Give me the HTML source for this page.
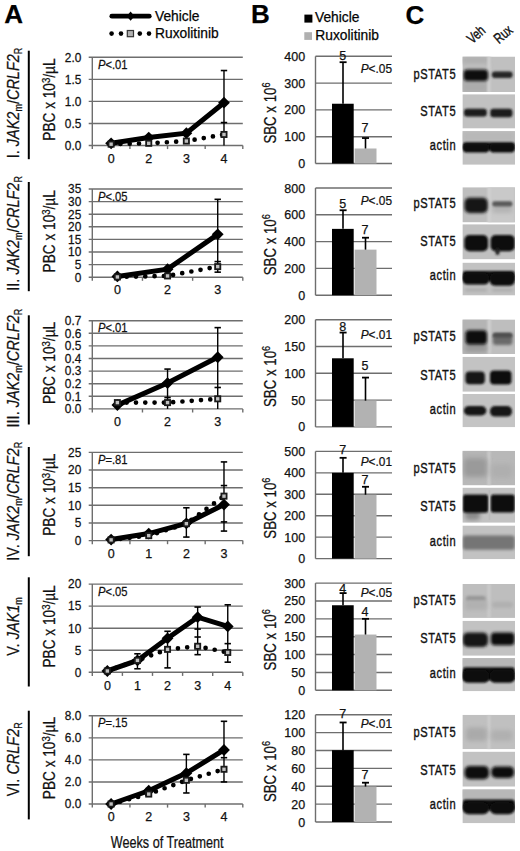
<!DOCTYPE html><html><head><meta charset="utf-8"><title>Figure</title><style>html,body{margin:0;padding:0;background:#fff;width:520px;height:851px;overflow:hidden}svg{display:block}text{font-family:"Liberation Sans", sans-serif;stroke:#111;stroke-width:0.25px}</style></head><body><svg width="520" height="851" viewBox="0 0 520 851" font-family='"Liberation Sans", sans-serif'><defs><filter id="b6" x="-50%" y="-100%" width="200%" height="300%"><feGaussianBlur stdDeviation="0.6"/></filter><filter id="b10" x="-50%" y="-100%" width="200%" height="300%"><feGaussianBlur stdDeviation="1"/></filter><filter id="b12" x="-50%" y="-100%" width="200%" height="300%"><feGaussianBlur stdDeviation="1.2"/></filter><filter id="b13" x="-50%" y="-100%" width="200%" height="300%"><feGaussianBlur stdDeviation="1.3"/></filter><filter id="b14" x="-50%" y="-100%" width="200%" height="300%"><feGaussianBlur stdDeviation="1.4"/></filter><filter id="b15" x="-50%" y="-100%" width="200%" height="300%"><feGaussianBlur stdDeviation="1.5"/></filter><filter id="b16" x="-50%" y="-100%" width="200%" height="300%"><feGaussianBlur stdDeviation="1.6"/></filter><filter id="b18" x="-50%" y="-100%" width="200%" height="300%"><feGaussianBlur stdDeviation="1.8"/></filter><filter id="b20" x="-50%" y="-100%" width="200%" height="300%"><feGaussianBlur stdDeviation="2"/></filter><filter id="b22" x="-50%" y="-100%" width="200%" height="300%"><feGaussianBlur stdDeviation="2.2"/></filter><filter id="b24" x="-50%" y="-100%" width="200%" height="300%"><feGaussianBlur stdDeviation="2.4"/></filter></defs><rect width="100%" height="100%" fill="#fff"/><text transform="translate(4.3,23.4)" font-size="26" text-anchor="start" font-weight="bold" font-style="normal" fill="#000" >A</text>
<text transform="translate(251,23.4)" font-size="26" text-anchor="start" font-weight="bold" font-style="normal" fill="#000" >B</text>
<text transform="translate(405.6,23.6)" font-size="26" text-anchor="start" font-weight="bold" font-style="normal" fill="#000" >C</text>
<line x1="111.8" y1="16.2" x2="149.3" y2="16.2" stroke="#000" stroke-width="4.7" stroke-linecap="round"/>
<polygon points="130.6,11.6 134.4,16.2 130.6,20.8 126.8,16.2" fill="#000"/>
<circle cx="111.6" cy="33.6" r="2.3" fill="#000"/>
<circle cx="121" cy="33.6" r="2.3" fill="#000"/>
<circle cx="139.8" cy="33.6" r="2.3" fill="#000"/>
<circle cx="149" cy="33.6" r="2.3" fill="#000"/>
<rect x="127.3" y="30.5" width="6.2" height="6.2" fill="#b0b0b0" stroke="#333" stroke-width="1.2"/>
<text transform="translate(155,20.9)" font-size="13.8" text-anchor="start" font-weight="normal" font-style="normal" fill="#000" >Vehicle</text>
<text transform="translate(155,38)" font-size="13.8" text-anchor="start" font-weight="normal" font-style="normal" fill="#000" >Ruxolitinib</text>
<rect x="304.4" y="14.6" width="8" height="8" fill="#000" />
<rect x="304.3" y="32.2" width="7.7" height="7.7" fill="#b0b0b0" />
<text transform="translate(315,21.9)" font-size="13.8" text-anchor="start" font-weight="normal" font-style="normal" fill="#000" >Vehicle</text>
<text transform="translate(315.3,39.6)" font-size="13.8" text-anchor="start" font-weight="normal" font-style="normal" fill="#000" >Ruxolitinib</text>
<line x1="28.8" y1="50.7" x2="28.8" y2="159.2" stroke="#000" stroke-width="2" />
<line x1="28.8" y1="182" x2="28.8" y2="291.2" stroke="#000" stroke-width="2" />
<line x1="28.8" y1="315.3" x2="28.8" y2="424.5" stroke="#000" stroke-width="2" />
<line x1="28.8" y1="447" x2="28.8" y2="556.2" stroke="#000" stroke-width="2" />
<line x1="28.8" y1="577.3" x2="28.8" y2="686.5" stroke="#000" stroke-width="2" />
<line x1="28.8" y1="710.7" x2="28.8" y2="819.4" stroke="#000" stroke-width="2" />
<text transform="translate(18.8,103) rotate(-90) scale(0.879,1)" font-size="16.5" text-anchor="middle" fill="#111">I. <tspan font-style="italic">JAK2</tspan><tspan font-size="10.23" dy="3">m</tspan><tspan dy="-3">/</tspan><tspan font-style="italic">CRLF2</tspan><tspan font-size="10.23" dy="3">R</tspan></text>
<text transform="translate(18.8,233.4) rotate(-90) scale(0.879,1)" font-size="16.5" text-anchor="middle" fill="#111">II. <tspan font-style="italic">JAK2</tspan><tspan font-size="10.23" dy="3">m</tspan><tspan dy="-3">/</tspan><tspan font-style="italic">CRLF2</tspan><tspan font-size="10.23" dy="3">R</tspan></text>
<text transform="translate(18.8,368.1) rotate(-90) scale(0.879,1)" font-size="16.5" text-anchor="middle" fill="#111">III. <tspan font-style="italic">JAK2</tspan><tspan font-size="10.23" dy="3">m</tspan><tspan dy="-3">/</tspan><tspan font-style="italic">CRLF2</tspan><tspan font-size="10.23" dy="3">R</tspan></text>
<text transform="translate(18.8,501.2) rotate(-90) scale(0.879,1)" font-size="16.5" text-anchor="middle" fill="#111">IV. <tspan font-style="italic">JAK2</tspan><tspan font-size="10.23" dy="3">m</tspan><tspan dy="-3">/</tspan><tspan font-style="italic">CRLF2</tspan><tspan font-size="10.23" dy="3">R</tspan></text>
<text transform="translate(18.8,626.5) rotate(-90) scale(0.879,1)" font-size="16.5" text-anchor="middle" fill="#111">V. <tspan font-style="italic">JAK1</tspan><tspan font-size="10.23" dy="3">m</tspan></text>
<text transform="translate(18.8,759.3) rotate(-90) scale(0.879,1)" font-size="16.5" text-anchor="middle" fill="#111">VI. <tspan font-style="italic">CRLF2</tspan><tspan font-size="10.23" dy="3">R</tspan></text>
<text transform="translate(55,99.6) rotate(-90) scale(0.853,1)" font-size="16" text-anchor="middle" fill="#111">PBC x 10<tspan font-size="11.2" dy="-5.2">3</tspan><tspan dy="5.2">/µL</tspan></text>
<text transform="translate(55,231.3) rotate(-90) scale(0.853,1)" font-size="16" text-anchor="middle" fill="#111">PBC x 10<tspan font-size="11.2" dy="-5.2">3</tspan><tspan dy="5.2">/µL</tspan></text>
<text transform="translate(55,363) rotate(-90) scale(0.853,1)" font-size="16" text-anchor="middle" fill="#111">PBC x 10<tspan font-size="11.2" dy="-5.2">3</tspan><tspan dy="5.2">/µL</tspan></text>
<text transform="translate(55,494.7) rotate(-90) scale(0.853,1)" font-size="16" text-anchor="middle" fill="#111">PBC x 10<tspan font-size="11.2" dy="-5.2">3</tspan><tspan dy="5.2">/µL</tspan></text>
<text transform="translate(55,626.4) rotate(-90) scale(0.853,1)" font-size="16" text-anchor="middle" fill="#111">PBC x 10<tspan font-size="11.2" dy="-5.2">3</tspan><tspan dy="5.2">/µL</tspan></text>
<text transform="translate(55,758.1) rotate(-90) scale(0.853,1)" font-size="16" text-anchor="middle" fill="#111">PBC x 10<tspan font-size="11.2" dy="-5.2">3</tspan><tspan dy="5.2">/µL</tspan></text>
<line x1="88.7" y1="145.5" x2="242.8" y2="145.5" stroke="#6e6e6e" stroke-width="1.4" />
<text transform="translate(81.3,149.8) scale(0.95,1)" font-size="12.5" text-anchor="end" font-weight="normal" font-style="normal" fill="#111" >0.0</text>
<line x1="88.7" y1="123.45" x2="242.8" y2="123.45" stroke="#6e6e6e" stroke-width="1.4" />
<text transform="translate(81.3,127.75) scale(0.95,1)" font-size="12.5" text-anchor="end" font-weight="normal" font-style="normal" fill="#111" >0.5</text>
<line x1="88.7" y1="101.4" x2="242.8" y2="101.4" stroke="#6e6e6e" stroke-width="1.4" />
<text transform="translate(81.3,105.7) scale(0.95,1)" font-size="12.5" text-anchor="end" font-weight="normal" font-style="normal" fill="#111" >1.0</text>
<line x1="88.7" y1="79.35" x2="242.8" y2="79.35" stroke="#6e6e6e" stroke-width="1.4" />
<text transform="translate(81.3,83.65) scale(0.95,1)" font-size="12.5" text-anchor="end" font-weight="normal" font-style="normal" fill="#111" >1.5</text>
<line x1="88.7" y1="57.3" x2="242.8" y2="57.3" stroke="#6e6e6e" stroke-width="1.4" />
<text transform="translate(81.3,61.6) scale(0.95,1)" font-size="12.5" text-anchor="end" font-weight="normal" font-style="normal" fill="#111" >2.0</text>
<line x1="92.3" y1="57.3" x2="92.3" y2="149.1" stroke="#6e6e6e" stroke-width="1.4" />
<line x1="129.925" y1="145.5" x2="129.925" y2="149.1" stroke="#6e6e6e" stroke-width="1.4" />
<line x1="167.55" y1="145.5" x2="167.55" y2="149.1" stroke="#6e6e6e" stroke-width="1.4" />
<line x1="205.175" y1="145.5" x2="205.175" y2="149.1" stroke="#6e6e6e" stroke-width="1.4" />
<line x1="242.8" y1="145.5" x2="242.8" y2="149.1" stroke="#6e6e6e" stroke-width="1.4" />
<text transform="translate(111.112,162.7)" font-size="12.5" text-anchor="middle" font-weight="normal" font-style="normal" fill="#111" >0</text>
<text transform="translate(148.738,162.7)" font-size="12.5" text-anchor="middle" font-weight="normal" font-style="normal" fill="#111" >2</text>
<text transform="translate(186.363,162.7)" font-size="12.5" text-anchor="middle" font-weight="normal" font-style="normal" fill="#111" >3</text>
<text transform="translate(223.988,162.7)" font-size="12.5" text-anchor="middle" font-weight="normal" font-style="normal" fill="#111" >4</text>
<text transform="translate(98,68.9) scale(0.87,1)" font-size="12.875" fill="#111"><tspan font-style="italic">P</tspan>&lt;.01</text>
<line x1="223.988" y1="145.5" x2="223.988" y2="70.53" stroke="#000" stroke-width="1.4" />
<line x1="220.788" y1="70.53" x2="227.188" y2="70.53" stroke="#000" stroke-width="1.6" />
<line x1="220.788" y1="122.568" x2="227.188" y2="122.568" stroke="#000" stroke-width="1.6" />
<polyline points="111.112,143.295 148.738,137.562 186.363,133.152 223.988,102.723" fill="none" stroke="#000" stroke-width="5" stroke-linejoin="miter"/>
<polygon points="111.112,137.395 117.013,143.295 111.112,149.195 105.212,143.295" fill="#000"/>
<polygon points="148.738,131.662 154.638,137.562 148.738,143.462 142.838,137.562" fill="#000"/>
<polygon points="186.363,127.252 192.263,133.152 186.363,139.052 180.463,133.152" fill="#000"/>
<polygon points="223.988,96.823 229.888,102.723 223.988,108.623 218.088,102.723" fill="#000"/>
<polyline points="111.112,144.177 148.738,143.295 186.363,141.09 223.988,134.475" fill="none" stroke="#000" stroke-width="4.7" stroke-linecap="round" stroke-dasharray="0 9.3"/>
<rect x="108.513" y="141.577" width="5.2" height="5.2" fill="#c0c0c0" stroke="#1a1a1a" stroke-width="1.8"/>
<rect x="146.138" y="140.695" width="5.2" height="5.2" fill="#c0c0c0" stroke="#1a1a1a" stroke-width="1.8"/>
<rect x="183.763" y="138.49" width="5.2" height="5.2" fill="#c0c0c0" stroke="#1a1a1a" stroke-width="1.8"/>
<rect x="221.388" y="131.875" width="5.2" height="5.2" fill="#c0c0c0" stroke="#1a1a1a" stroke-width="1.8"/>
<line x1="88.7" y1="277.2" x2="242.8" y2="277.2" stroke="#6e6e6e" stroke-width="1.4" />
<text transform="translate(81.3,281.5) scale(0.95,1)" font-size="12.5" text-anchor="end" font-weight="normal" font-style="normal" fill="#111" >0</text>
<line x1="88.7" y1="264.6" x2="242.8" y2="264.6" stroke="#6e6e6e" stroke-width="1.4" />
<text transform="translate(81.3,268.9) scale(0.95,1)" font-size="12.5" text-anchor="end" font-weight="normal" font-style="normal" fill="#111" >5</text>
<line x1="88.7" y1="252" x2="242.8" y2="252" stroke="#6e6e6e" stroke-width="1.4" />
<text transform="translate(81.3,256.3) scale(0.95,1)" font-size="12.5" text-anchor="end" font-weight="normal" font-style="normal" fill="#111" >10</text>
<line x1="88.7" y1="239.4" x2="242.8" y2="239.4" stroke="#6e6e6e" stroke-width="1.4" />
<text transform="translate(81.3,243.7) scale(0.95,1)" font-size="12.5" text-anchor="end" font-weight="normal" font-style="normal" fill="#111" >15</text>
<line x1="88.7" y1="226.8" x2="242.8" y2="226.8" stroke="#6e6e6e" stroke-width="1.4" />
<text transform="translate(81.3,231.1) scale(0.95,1)" font-size="12.5" text-anchor="end" font-weight="normal" font-style="normal" fill="#111" >20</text>
<line x1="88.7" y1="214.2" x2="242.8" y2="214.2" stroke="#6e6e6e" stroke-width="1.4" />
<text transform="translate(81.3,218.5) scale(0.95,1)" font-size="12.5" text-anchor="end" font-weight="normal" font-style="normal" fill="#111" >25</text>
<line x1="88.7" y1="201.6" x2="242.8" y2="201.6" stroke="#6e6e6e" stroke-width="1.4" />
<text transform="translate(81.3,205.9) scale(0.95,1)" font-size="12.5" text-anchor="end" font-weight="normal" font-style="normal" fill="#111" >30</text>
<line x1="88.7" y1="189" x2="242.8" y2="189" stroke="#6e6e6e" stroke-width="1.4" />
<text transform="translate(81.3,193.3) scale(0.95,1)" font-size="12.5" text-anchor="end" font-weight="normal" font-style="normal" fill="#111" >35</text>
<line x1="92.3" y1="189" x2="92.3" y2="280.8" stroke="#6e6e6e" stroke-width="1.4" />
<line x1="142.467" y1="277.2" x2="142.467" y2="280.8" stroke="#6e6e6e" stroke-width="1.4" />
<line x1="192.633" y1="277.2" x2="192.633" y2="280.8" stroke="#6e6e6e" stroke-width="1.4" />
<line x1="242.8" y1="277.2" x2="242.8" y2="280.8" stroke="#6e6e6e" stroke-width="1.4" />
<text transform="translate(117.383,294.4)" font-size="12.5" text-anchor="middle" font-weight="normal" font-style="normal" fill="#111" >0</text>
<text transform="translate(167.55,294.4)" font-size="12.5" text-anchor="middle" font-weight="normal" font-style="normal" fill="#111" >2</text>
<text transform="translate(217.717,294.4)" font-size="12.5" text-anchor="middle" font-weight="normal" font-style="normal" fill="#111" >3</text>
<text transform="translate(98,200.6) scale(0.87,1)" font-size="12.875" fill="#111"><tspan font-style="italic">P</tspan>&lt;.05</text>
<line x1="217.717" y1="272.16" x2="217.717" y2="199.332" stroke="#000" stroke-width="1.4" />
<line x1="214.517" y1="199.332" x2="220.917" y2="199.332" stroke="#000" stroke-width="1.6" />
<line x1="214.517" y1="261.576" x2="220.917" y2="261.576" stroke="#000" stroke-width="1.6" />
<line x1="214.517" y1="272.16" x2="220.917" y2="272.16" stroke="#000" stroke-width="1.6" />
<polyline points="117.383,276.444 167.55,269.136 217.717,234.36" fill="none" stroke="#000" stroke-width="5" stroke-linejoin="miter"/>
<polygon points="117.383,270.544 123.283,276.444 117.383,282.344 111.483,276.444" fill="#000"/>
<polygon points="167.55,263.236 173.45,269.136 167.55,275.036 161.65,269.136" fill="#000"/>
<polygon points="217.717,228.46 223.617,234.36 217.717,240.26 211.817,234.36" fill="#000"/>
<polyline points="117.383,276.948 167.55,275.94 217.717,266.616" fill="none" stroke="#000" stroke-width="4.7" stroke-linecap="round" stroke-dasharray="0 9.3"/>
<rect x="114.783" y="274.348" width="5.2" height="5.2" fill="#c0c0c0" stroke="#1a1a1a" stroke-width="1.8"/>
<rect x="164.95" y="273.34" width="5.2" height="5.2" fill="#c0c0c0" stroke="#1a1a1a" stroke-width="1.8"/>
<rect x="215.117" y="264.016" width="5.2" height="5.2" fill="#c0c0c0" stroke="#1a1a1a" stroke-width="1.8"/>
<line x1="88.7" y1="408.9" x2="242.8" y2="408.9" stroke="#6e6e6e" stroke-width="1.4" />
<text transform="translate(81.3,413.2) scale(0.95,1)" font-size="12.5" text-anchor="end" font-weight="normal" font-style="normal" fill="#111" >0.0</text>
<line x1="88.7" y1="396.3" x2="242.8" y2="396.3" stroke="#6e6e6e" stroke-width="1.4" />
<text transform="translate(81.3,400.6) scale(0.95,1)" font-size="12.5" text-anchor="end" font-weight="normal" font-style="normal" fill="#111" >0.1</text>
<line x1="88.7" y1="383.7" x2="242.8" y2="383.7" stroke="#6e6e6e" stroke-width="1.4" />
<text transform="translate(81.3,388) scale(0.95,1)" font-size="12.5" text-anchor="end" font-weight="normal" font-style="normal" fill="#111" >0.2</text>
<line x1="88.7" y1="371.1" x2="242.8" y2="371.1" stroke="#6e6e6e" stroke-width="1.4" />
<text transform="translate(81.3,375.4) scale(0.95,1)" font-size="12.5" text-anchor="end" font-weight="normal" font-style="normal" fill="#111" >0.3</text>
<line x1="88.7" y1="358.5" x2="242.8" y2="358.5" stroke="#6e6e6e" stroke-width="1.4" />
<text transform="translate(81.3,362.8) scale(0.95,1)" font-size="12.5" text-anchor="end" font-weight="normal" font-style="normal" fill="#111" >0.4</text>
<line x1="88.7" y1="345.9" x2="242.8" y2="345.9" stroke="#6e6e6e" stroke-width="1.4" />
<text transform="translate(81.3,350.2) scale(0.95,1)" font-size="12.5" text-anchor="end" font-weight="normal" font-style="normal" fill="#111" >0.5</text>
<line x1="88.7" y1="333.3" x2="242.8" y2="333.3" stroke="#6e6e6e" stroke-width="1.4" />
<text transform="translate(81.3,337.6) scale(0.95,1)" font-size="12.5" text-anchor="end" font-weight="normal" font-style="normal" fill="#111" >0.6</text>
<line x1="88.7" y1="320.7" x2="242.8" y2="320.7" stroke="#6e6e6e" stroke-width="1.4" />
<text transform="translate(81.3,325) scale(0.95,1)" font-size="12.5" text-anchor="end" font-weight="normal" font-style="normal" fill="#111" >0.7</text>
<line x1="92.3" y1="320.7" x2="92.3" y2="412.5" stroke="#6e6e6e" stroke-width="1.4" />
<line x1="142.467" y1="408.9" x2="142.467" y2="412.5" stroke="#6e6e6e" stroke-width="1.4" />
<line x1="192.633" y1="408.9" x2="192.633" y2="412.5" stroke="#6e6e6e" stroke-width="1.4" />
<line x1="242.8" y1="408.9" x2="242.8" y2="412.5" stroke="#6e6e6e" stroke-width="1.4" />
<text transform="translate(117.383,426.1)" font-size="12.5" text-anchor="middle" font-weight="normal" font-style="normal" fill="#111" >0</text>
<text transform="translate(167.55,426.1)" font-size="12.5" text-anchor="middle" font-weight="normal" font-style="normal" fill="#111" >2</text>
<text transform="translate(217.717,426.1)" font-size="12.5" text-anchor="middle" font-weight="normal" font-style="normal" fill="#111" >3</text>
<text transform="translate(98,332.3) scale(0.87,1)" font-size="12.875" fill="#111"><tspan font-style="italic">P</tspan>&lt;.01</text>
<line x1="167.55" y1="408.9" x2="167.55" y2="369.084" stroke="#000" stroke-width="1.4" />
<line x1="164.35" y1="369.084" x2="170.75" y2="369.084" stroke="#000" stroke-width="1.6" />
<line x1="164.35" y1="397.56" x2="170.75" y2="397.56" stroke="#000" stroke-width="1.6" />
<line x1="217.717" y1="408.9" x2="217.717" y2="327.63" stroke="#000" stroke-width="1.4" />
<line x1="214.517" y1="327.63" x2="220.917" y2="327.63" stroke="#000" stroke-width="1.6" />
<line x1="214.517" y1="387.48" x2="220.917" y2="387.48" stroke="#000" stroke-width="1.6" />
<polyline points="117.383,405.12 167.55,383.07 217.717,357.24" fill="none" stroke="#000" stroke-width="5" stroke-linejoin="miter"/>
<polygon points="117.383,399.22 123.283,405.12 117.383,411.02 111.483,405.12" fill="#000"/>
<polygon points="167.55,377.17 173.45,383.07 167.55,388.97 161.65,383.07" fill="#000"/>
<polygon points="217.717,351.34 223.617,357.24 217.717,363.14 211.817,357.24" fill="#000"/>
<polyline points="117.383,402.6 167.55,402.6 217.717,398.82" fill="none" stroke="#000" stroke-width="4.7" stroke-linecap="round" stroke-dasharray="0 9.3"/>
<rect x="114.783" y="400" width="5.2" height="5.2" fill="#c0c0c0" stroke="#1a1a1a" stroke-width="1.8"/>
<rect x="164.95" y="400" width="5.2" height="5.2" fill="#c0c0c0" stroke="#1a1a1a" stroke-width="1.8"/>
<rect x="215.117" y="396.22" width="5.2" height="5.2" fill="#c0c0c0" stroke="#1a1a1a" stroke-width="1.8"/>
<line x1="88.7" y1="540.6" x2="242.8" y2="540.6" stroke="#6e6e6e" stroke-width="1.4" />
<text transform="translate(81.3,544.9) scale(0.95,1)" font-size="12.5" text-anchor="end" font-weight="normal" font-style="normal" fill="#111" >0</text>
<line x1="88.7" y1="522.96" x2="242.8" y2="522.96" stroke="#6e6e6e" stroke-width="1.4" />
<text transform="translate(81.3,527.26) scale(0.95,1)" font-size="12.5" text-anchor="end" font-weight="normal" font-style="normal" fill="#111" >5</text>
<line x1="88.7" y1="505.32" x2="242.8" y2="505.32" stroke="#6e6e6e" stroke-width="1.4" />
<text transform="translate(81.3,509.62) scale(0.95,1)" font-size="12.5" text-anchor="end" font-weight="normal" font-style="normal" fill="#111" >10</text>
<line x1="88.7" y1="487.68" x2="242.8" y2="487.68" stroke="#6e6e6e" stroke-width="1.4" />
<text transform="translate(81.3,491.98) scale(0.95,1)" font-size="12.5" text-anchor="end" font-weight="normal" font-style="normal" fill="#111" >15</text>
<line x1="88.7" y1="470.04" x2="242.8" y2="470.04" stroke="#6e6e6e" stroke-width="1.4" />
<text transform="translate(81.3,474.34) scale(0.95,1)" font-size="12.5" text-anchor="end" font-weight="normal" font-style="normal" fill="#111" >20</text>
<line x1="88.7" y1="452.4" x2="242.8" y2="452.4" stroke="#6e6e6e" stroke-width="1.4" />
<text transform="translate(81.3,456.7) scale(0.95,1)" font-size="12.5" text-anchor="end" font-weight="normal" font-style="normal" fill="#111" >25</text>
<line x1="92.3" y1="452.4" x2="92.3" y2="544.2" stroke="#6e6e6e" stroke-width="1.4" />
<line x1="129.925" y1="540.6" x2="129.925" y2="544.2" stroke="#6e6e6e" stroke-width="1.4" />
<line x1="167.55" y1="540.6" x2="167.55" y2="544.2" stroke="#6e6e6e" stroke-width="1.4" />
<line x1="205.175" y1="540.6" x2="205.175" y2="544.2" stroke="#6e6e6e" stroke-width="1.4" />
<line x1="242.8" y1="540.6" x2="242.8" y2="544.2" stroke="#6e6e6e" stroke-width="1.4" />
<text transform="translate(111.112,557.8)" font-size="12.5" text-anchor="middle" font-weight="normal" font-style="normal" fill="#111" >0</text>
<text transform="translate(148.738,557.8)" font-size="12.5" text-anchor="middle" font-weight="normal" font-style="normal" fill="#111" >1</text>
<text transform="translate(186.363,557.8)" font-size="12.5" text-anchor="middle" font-weight="normal" font-style="normal" fill="#111" >2</text>
<text transform="translate(223.988,557.8)" font-size="12.5" text-anchor="middle" font-weight="normal" font-style="normal" fill="#111" >3</text>
<text transform="translate(98,464) scale(0.87,1)" font-size="12.875" fill="#111"><tspan font-style="italic">P</tspan>=.81</text>
<line x1="186.363" y1="537.072" x2="186.363" y2="507.79" stroke="#000" stroke-width="1.4" />
<line x1="183.163" y1="507.79" x2="189.562" y2="507.79" stroke="#000" stroke-width="1.6" />
<line x1="183.163" y1="537.072" x2="189.562" y2="537.072" stroke="#000" stroke-width="1.6" />
<line x1="223.988" y1="531.074" x2="223.988" y2="461.926" stroke="#000" stroke-width="1.4" />
<line x1="220.788" y1="461.926" x2="227.188" y2="461.926" stroke="#000" stroke-width="1.6" />
<line x1="220.788" y1="485.563" x2="227.188" y2="485.563" stroke="#000" stroke-width="1.6" />
<line x1="220.788" y1="521.902" x2="227.188" y2="521.902" stroke="#000" stroke-width="1.6" />
<line x1="220.788" y1="531.074" x2="227.188" y2="531.074" stroke="#000" stroke-width="1.6" />
<polyline points="111.112,539.542 148.738,533.544 186.363,523.313 223.988,504.614" fill="none" stroke="#000" stroke-width="5" stroke-linejoin="miter"/>
<polygon points="111.112,533.642 117.013,539.542 111.112,545.442 105.212,539.542" fill="#000"/>
<polygon points="148.738,527.644 154.638,533.544 148.738,539.444 142.838,533.544" fill="#000"/>
<polygon points="186.363,517.413 192.263,523.313 186.363,529.213 180.463,523.313" fill="#000"/>
<polygon points="223.988,498.714 229.888,504.614 223.988,510.514 218.088,504.614" fill="#000"/>
<polyline points="111.112,539.894 148.738,535.661 186.363,523.666 223.988,496.147" fill="none" stroke="#000" stroke-width="4.7" stroke-linecap="round" stroke-dasharray="0 9.3"/>
<rect x="108.513" y="537.294" width="5.2" height="5.2" fill="#c0c0c0" stroke="#1a1a1a" stroke-width="1.8"/>
<rect x="146.138" y="533.061" width="5.2" height="5.2" fill="#c0c0c0" stroke="#1a1a1a" stroke-width="1.8"/>
<rect x="183.763" y="521.066" width="5.2" height="5.2" fill="#c0c0c0" stroke="#1a1a1a" stroke-width="1.8"/>
<rect x="221.388" y="493.547" width="5.2" height="5.2" fill="#c0c0c0" stroke="#1a1a1a" stroke-width="1.8"/>
<line x1="88.7" y1="672.3" x2="242.8" y2="672.3" stroke="#6e6e6e" stroke-width="1.4" />
<text transform="translate(81.3,676.6) scale(0.95,1)" font-size="12.5" text-anchor="end" font-weight="normal" font-style="normal" fill="#111" >0</text>
<line x1="88.7" y1="650.25" x2="242.8" y2="650.25" stroke="#6e6e6e" stroke-width="1.4" />
<text transform="translate(81.3,654.55) scale(0.95,1)" font-size="12.5" text-anchor="end" font-weight="normal" font-style="normal" fill="#111" >5</text>
<line x1="88.7" y1="628.2" x2="242.8" y2="628.2" stroke="#6e6e6e" stroke-width="1.4" />
<text transform="translate(81.3,632.5) scale(0.95,1)" font-size="12.5" text-anchor="end" font-weight="normal" font-style="normal" fill="#111" >10</text>
<line x1="88.7" y1="606.15" x2="242.8" y2="606.15" stroke="#6e6e6e" stroke-width="1.4" />
<text transform="translate(81.3,610.45) scale(0.95,1)" font-size="12.5" text-anchor="end" font-weight="normal" font-style="normal" fill="#111" >15</text>
<line x1="88.7" y1="584.1" x2="242.8" y2="584.1" stroke="#6e6e6e" stroke-width="1.4" />
<text transform="translate(81.3,588.4) scale(0.95,1)" font-size="12.5" text-anchor="end" font-weight="normal" font-style="normal" fill="#111" >20</text>
<line x1="92.3" y1="584.1" x2="92.3" y2="675.9" stroke="#6e6e6e" stroke-width="1.4" />
<line x1="122.4" y1="672.3" x2="122.4" y2="675.9" stroke="#6e6e6e" stroke-width="1.4" />
<line x1="152.5" y1="672.3" x2="152.5" y2="675.9" stroke="#6e6e6e" stroke-width="1.4" />
<line x1="182.6" y1="672.3" x2="182.6" y2="675.9" stroke="#6e6e6e" stroke-width="1.4" />
<line x1="212.7" y1="672.3" x2="212.7" y2="675.9" stroke="#6e6e6e" stroke-width="1.4" />
<line x1="242.8" y1="672.3" x2="242.8" y2="675.9" stroke="#6e6e6e" stroke-width="1.4" />
<text transform="translate(107.35,689.5)" font-size="12.5" text-anchor="middle" font-weight="normal" font-style="normal" fill="#111" >0</text>
<text transform="translate(137.45,689.5)" font-size="12.5" text-anchor="middle" font-weight="normal" font-style="normal" fill="#111" >1</text>
<text transform="translate(167.55,689.5)" font-size="12.5" text-anchor="middle" font-weight="normal" font-style="normal" fill="#111" >2</text>
<text transform="translate(197.65,689.5)" font-size="12.5" text-anchor="middle" font-weight="normal" font-style="normal" fill="#111" >3</text>
<text transform="translate(227.75,689.5)" font-size="12.5" text-anchor="middle" font-weight="normal" font-style="normal" fill="#111" >4</text>
<text transform="translate(98,595.7) scale(0.87,1)" font-size="12.875" fill="#111"><tspan font-style="italic">P</tspan>&lt;.05</text>
<line x1="137.45" y1="668.772" x2="137.45" y2="653.778" stroke="#000" stroke-width="1.4" />
<line x1="134.25" y1="653.778" x2="140.65" y2="653.778" stroke="#000" stroke-width="1.6" />
<line x1="134.25" y1="668.772" x2="140.65" y2="668.772" stroke="#000" stroke-width="1.6" />
<line x1="167.55" y1="667.89" x2="167.55" y2="631.287" stroke="#000" stroke-width="1.4" />
<line x1="164.35" y1="631.287" x2="170.75" y2="631.287" stroke="#000" stroke-width="1.6" />
<line x1="164.35" y1="667.89" x2="170.75" y2="667.89" stroke="#000" stroke-width="1.6" />
<line x1="197.65" y1="654.66" x2="197.65" y2="607.032" stroke="#000" stroke-width="1.4" />
<line x1="194.45" y1="607.032" x2="200.85" y2="607.032" stroke="#000" stroke-width="1.6" />
<line x1="194.45" y1="629.082" x2="200.85" y2="629.082" stroke="#000" stroke-width="1.6" />
<line x1="194.45" y1="637.02" x2="200.85" y2="637.02" stroke="#000" stroke-width="1.6" />
<line x1="194.45" y1="654.66" x2="200.85" y2="654.66" stroke="#000" stroke-width="1.6" />
<line x1="227.75" y1="662.157" x2="227.75" y2="604.827" stroke="#000" stroke-width="1.4" />
<line x1="224.55" y1="604.827" x2="230.95" y2="604.827" stroke="#000" stroke-width="1.6" />
<line x1="224.55" y1="643.635" x2="230.95" y2="643.635" stroke="#000" stroke-width="1.6" />
<line x1="224.55" y1="662.157" x2="230.95" y2="662.157" stroke="#000" stroke-width="1.6" />
<polyline points="107.35,670.977 137.45,660.393 167.55,638.343 197.65,617.175 227.75,626.436" fill="none" stroke="#000" stroke-width="5" stroke-linejoin="miter"/>
<polygon points="107.35,665.077 113.25,670.977 107.35,676.877 101.45,670.977" fill="#000"/>
<polygon points="137.45,654.493 143.35,660.393 137.45,666.293 131.55,660.393" fill="#000"/>
<polygon points="167.55,632.443 173.45,638.343 167.55,644.243 161.65,638.343" fill="#000"/>
<polygon points="197.65,611.275 203.55,617.175 197.65,623.075 191.75,617.175" fill="#000"/>
<polygon points="227.75,620.536 233.65,626.436 227.75,632.336 221.85,626.436" fill="#000"/>
<polyline points="107.35,670.977 137.45,660.393 167.55,649.368 197.65,646.281 227.75,652.455" fill="none" stroke="#000" stroke-width="4.7" stroke-linecap="round" stroke-dasharray="0 9.3"/>
<rect x="104.75" y="668.377" width="5.2" height="5.2" fill="#c0c0c0" stroke="#1a1a1a" stroke-width="1.8"/>
<rect x="134.85" y="657.793" width="5.2" height="5.2" fill="#c0c0c0" stroke="#1a1a1a" stroke-width="1.8"/>
<rect x="164.95" y="646.768" width="5.2" height="5.2" fill="#c0c0c0" stroke="#1a1a1a" stroke-width="1.8"/>
<rect x="195.05" y="643.681" width="5.2" height="5.2" fill="#c0c0c0" stroke="#1a1a1a" stroke-width="1.8"/>
<rect x="225.15" y="649.855" width="5.2" height="5.2" fill="#c0c0c0" stroke="#1a1a1a" stroke-width="1.8"/>
<line x1="88.7" y1="804" x2="242.8" y2="804" stroke="#6e6e6e" stroke-width="1.4" />
<text transform="translate(81.3,808.3) scale(0.95,1)" font-size="12.5" text-anchor="end" font-weight="normal" font-style="normal" fill="#111" >0.0</text>
<line x1="88.7" y1="781.95" x2="242.8" y2="781.95" stroke="#6e6e6e" stroke-width="1.4" />
<text transform="translate(81.3,786.25) scale(0.95,1)" font-size="12.5" text-anchor="end" font-weight="normal" font-style="normal" fill="#111" >2.0</text>
<line x1="88.7" y1="759.9" x2="242.8" y2="759.9" stroke="#6e6e6e" stroke-width="1.4" />
<text transform="translate(81.3,764.2) scale(0.95,1)" font-size="12.5" text-anchor="end" font-weight="normal" font-style="normal" fill="#111" >4.0</text>
<line x1="88.7" y1="737.85" x2="242.8" y2="737.85" stroke="#6e6e6e" stroke-width="1.4" />
<text transform="translate(81.3,742.15) scale(0.95,1)" font-size="12.5" text-anchor="end" font-weight="normal" font-style="normal" fill="#111" >6.0</text>
<line x1="88.7" y1="715.8" x2="242.8" y2="715.8" stroke="#6e6e6e" stroke-width="1.4" />
<text transform="translate(81.3,720.1) scale(0.95,1)" font-size="12.5" text-anchor="end" font-weight="normal" font-style="normal" fill="#111" >8.0</text>
<line x1="92.3" y1="715.8" x2="92.3" y2="807.6" stroke="#6e6e6e" stroke-width="1.4" />
<line x1="129.925" y1="804" x2="129.925" y2="807.6" stroke="#6e6e6e" stroke-width="1.4" />
<line x1="167.55" y1="804" x2="167.55" y2="807.6" stroke="#6e6e6e" stroke-width="1.4" />
<line x1="205.175" y1="804" x2="205.175" y2="807.6" stroke="#6e6e6e" stroke-width="1.4" />
<line x1="242.8" y1="804" x2="242.8" y2="807.6" stroke="#6e6e6e" stroke-width="1.4" />
<text transform="translate(111.112,821.2)" font-size="12.5" text-anchor="middle" font-weight="normal" font-style="normal" fill="#111" >0</text>
<text transform="translate(148.738,821.2)" font-size="12.5" text-anchor="middle" font-weight="normal" font-style="normal" fill="#111" >2</text>
<text transform="translate(186.363,821.2)" font-size="12.5" text-anchor="middle" font-weight="normal" font-style="normal" fill="#111" >3</text>
<text transform="translate(223.988,821.2)" font-size="12.5" text-anchor="middle" font-weight="normal" font-style="normal" fill="#111" >4</text>
<text transform="translate(98,727.4) scale(0.87,1)" font-size="12.875" fill="#111"><tspan font-style="italic">P</tspan>=.15</text>
<line x1="148.738" y1="795.18" x2="148.738" y2="788.565" stroke="#000" stroke-width="1.4" />
<line x1="145.538" y1="788.565" x2="151.938" y2="788.565" stroke="#000" stroke-width="1.6" />
<line x1="186.363" y1="792.975" x2="186.363" y2="754.388" stroke="#000" stroke-width="1.4" />
<line x1="183.163" y1="754.388" x2="189.562" y2="754.388" stroke="#000" stroke-width="1.6" />
<line x1="183.163" y1="792.975" x2="189.562" y2="792.975" stroke="#000" stroke-width="1.6" />
<line x1="223.988" y1="781.95" x2="223.988" y2="721.312" stroke="#000" stroke-width="1.4" />
<line x1="220.788" y1="721.312" x2="227.188" y2="721.312" stroke="#000" stroke-width="1.6" />
<line x1="220.788" y1="757.695" x2="227.188" y2="757.695" stroke="#000" stroke-width="1.6" />
<line x1="220.788" y1="781.95" x2="227.188" y2="781.95" stroke="#000" stroke-width="1.6" />
<polyline points="111.112,804 148.738,790.77 186.363,773.13 223.988,749.977" fill="none" stroke="#000" stroke-width="5" stroke-linejoin="miter"/>
<polygon points="111.112,798.1 117.013,804 111.112,809.9 105.212,804" fill="#000"/>
<polygon points="148.738,784.87 154.638,790.77 148.738,796.67 142.838,790.77" fill="#000"/>
<polygon points="186.363,767.23 192.263,773.13 186.363,779.03 180.463,773.13" fill="#000"/>
<polygon points="223.988,744.077 229.888,749.977 223.988,755.877 218.088,749.977" fill="#000"/>
<polyline points="111.112,804 148.738,794.077 186.363,780.296 223.988,769.271" fill="none" stroke="#000" stroke-width="4.7" stroke-linecap="round" stroke-dasharray="0 9.3"/>
<rect x="108.513" y="801.4" width="5.2" height="5.2" fill="#c0c0c0" stroke="#1a1a1a" stroke-width="1.8"/>
<rect x="146.138" y="791.477" width="5.2" height="5.2" fill="#c0c0c0" stroke="#1a1a1a" stroke-width="1.8"/>
<rect x="183.763" y="777.696" width="5.2" height="5.2" fill="#c0c0c0" stroke="#1a1a1a" stroke-width="1.8"/>
<rect x="221.388" y="766.671" width="5.2" height="5.2" fill="#c0c0c0" stroke="#1a1a1a" stroke-width="1.8"/>
<text transform="translate(167.2,847.7) scale(0.79,1)" font-size="16" text-anchor="middle" font-weight="normal" font-style="normal" fill="#111" >Weeks of Treatment</text>
<line x1="315.5" y1="163.5" x2="392" y2="163.5" stroke="#6e6e6e" stroke-width="1.4" />
<text transform="translate(305.2,168)" font-size="12.5" text-anchor="end" font-weight="normal" font-style="normal" fill="#111" >0</text>
<line x1="315.5" y1="136.7" x2="392" y2="136.7" stroke="#6e6e6e" stroke-width="1.4" />
<text transform="translate(305.2,141.2)" font-size="12.5" text-anchor="end" font-weight="normal" font-style="normal" fill="#111" >100</text>
<line x1="315.5" y1="109.9" x2="392" y2="109.9" stroke="#6e6e6e" stroke-width="1.4" />
<text transform="translate(305.2,114.4)" font-size="12.5" text-anchor="end" font-weight="normal" font-style="normal" fill="#111" >200</text>
<line x1="315.5" y1="83.1" x2="392" y2="83.1" stroke="#6e6e6e" stroke-width="1.4" />
<text transform="translate(305.2,87.6)" font-size="12.5" text-anchor="end" font-weight="normal" font-style="normal" fill="#111" >300</text>
<line x1="315.5" y1="56.3" x2="392" y2="56.3" stroke="#6e6e6e" stroke-width="1.4" />
<text transform="translate(305.2,60.8)" font-size="12.5" text-anchor="end" font-weight="normal" font-style="normal" fill="#111" >400</text>
<line x1="315.5" y1="56.3" x2="315.5" y2="163.5" stroke="#6e6e6e" stroke-width="1.4" />
<rect x="332" y="103.736" width="21.7" height="59.764" fill="#000" />
<rect x="354.6" y="148.492" width="21.9" height="15.008" fill="#b2b2b2" />
<line x1="343" y1="103.736" x2="343" y2="62.196" stroke="#000" stroke-width="1.6" />
<line x1="339.6" y1="62.196" x2="346.6" y2="62.196" stroke="#000" stroke-width="1.8" />
<line x1="365.5" y1="148.492" x2="365.5" y2="138.04" stroke="#000" stroke-width="1.6" />
<line x1="362" y1="138.04" x2="369" y2="138.04" stroke="#000" stroke-width="1.8" />
<text transform="translate(342.8,60.3)" font-size="12.5" text-anchor="middle" font-weight="normal" font-style="normal" fill="#111" >5</text>
<text transform="translate(365,131.6)" font-size="12.5" text-anchor="middle" font-weight="normal" font-style="normal" fill="#111" >7</text>
<text transform="translate(392,72.9) scale(0.93,1)" font-size="12.75" fill="#111" text-anchor="end"><tspan font-style="italic">P</tspan>&lt;.05</text>
<line x1="315.5" y1="295.2" x2="392" y2="295.2" stroke="#6e6e6e" stroke-width="1.4" />
<text transform="translate(305.2,299.7)" font-size="12.5" text-anchor="end" font-weight="normal" font-style="normal" fill="#111" >0</text>
<line x1="315.5" y1="268.4" x2="392" y2="268.4" stroke="#6e6e6e" stroke-width="1.4" />
<text transform="translate(305.2,272.9)" font-size="12.5" text-anchor="end" font-weight="normal" font-style="normal" fill="#111" >200</text>
<line x1="315.5" y1="241.6" x2="392" y2="241.6" stroke="#6e6e6e" stroke-width="1.4" />
<text transform="translate(305.2,246.1)" font-size="12.5" text-anchor="end" font-weight="normal" font-style="normal" fill="#111" >400</text>
<line x1="315.5" y1="214.8" x2="392" y2="214.8" stroke="#6e6e6e" stroke-width="1.4" />
<text transform="translate(305.2,219.3)" font-size="12.5" text-anchor="end" font-weight="normal" font-style="normal" fill="#111" >600</text>
<line x1="315.5" y1="188" x2="392" y2="188" stroke="#6e6e6e" stroke-width="1.4" />
<text transform="translate(305.2,192.5)" font-size="12.5" text-anchor="end" font-weight="normal" font-style="normal" fill="#111" >800</text>
<line x1="315.5" y1="188" x2="315.5" y2="295.2" stroke="#6e6e6e" stroke-width="1.4" />
<rect x="332" y="228.87" width="21.7" height="66.33" fill="#000" />
<rect x="354.6" y="249.64" width="21.9" height="45.56" fill="#b2b2b2" />
<line x1="343" y1="228.87" x2="343" y2="210.244" stroke="#000" stroke-width="1.6" />
<line x1="339.6" y1="210.244" x2="346.6" y2="210.244" stroke="#000" stroke-width="1.8" />
<line x1="365.5" y1="249.64" x2="365.5" y2="237.714" stroke="#000" stroke-width="1.6" />
<line x1="362" y1="237.714" x2="369" y2="237.714" stroke="#000" stroke-width="1.8" />
<text transform="translate(342.8,207.6)" font-size="12.5" text-anchor="middle" font-weight="normal" font-style="normal" fill="#111" >5</text>
<text transform="translate(365,234.4)" font-size="12.5" text-anchor="middle" font-weight="normal" font-style="normal" fill="#111" >7</text>
<text transform="translate(392,204.6) scale(0.93,1)" font-size="12.75" fill="#111" text-anchor="end"><tspan font-style="italic">P</tspan>&lt;.05</text>
<line x1="315.5" y1="426.9" x2="392" y2="426.9" stroke="#6e6e6e" stroke-width="1.4" />
<text transform="translate(305.2,431.4)" font-size="12.5" text-anchor="end" font-weight="normal" font-style="normal" fill="#111" >0</text>
<line x1="315.5" y1="400.1" x2="392" y2="400.1" stroke="#6e6e6e" stroke-width="1.4" />
<text transform="translate(305.2,404.6)" font-size="12.5" text-anchor="end" font-weight="normal" font-style="normal" fill="#111" >50</text>
<line x1="315.5" y1="373.3" x2="392" y2="373.3" stroke="#6e6e6e" stroke-width="1.4" />
<text transform="translate(305.2,377.8)" font-size="12.5" text-anchor="end" font-weight="normal" font-style="normal" fill="#111" >100</text>
<line x1="315.5" y1="346.5" x2="392" y2="346.5" stroke="#6e6e6e" stroke-width="1.4" />
<text transform="translate(305.2,351)" font-size="12.5" text-anchor="end" font-weight="normal" font-style="normal" fill="#111" >150</text>
<line x1="315.5" y1="319.7" x2="392" y2="319.7" stroke="#6e6e6e" stroke-width="1.4" />
<text transform="translate(305.2,324.2)" font-size="12.5" text-anchor="end" font-weight="normal" font-style="normal" fill="#111" >200</text>
<line x1="315.5" y1="319.7" x2="315.5" y2="426.9" stroke="#6e6e6e" stroke-width="1.4" />
<rect x="332" y="358.292" width="21.7" height="68.608" fill="#000" />
<rect x="354.6" y="400.636" width="21.9" height="26.264" fill="#b2b2b2" />
<line x1="343" y1="358.292" x2="343" y2="332.564" stroke="#000" stroke-width="1.6" />
<line x1="339.6" y1="332.564" x2="346.6" y2="332.564" stroke="#000" stroke-width="1.8" />
<line x1="365.5" y1="400.636" x2="365.5" y2="377.588" stroke="#000" stroke-width="1.6" />
<line x1="362" y1="377.588" x2="369" y2="377.588" stroke="#000" stroke-width="1.8" />
<text transform="translate(342.8,330.8)" font-size="12.5" text-anchor="middle" font-weight="normal" font-style="normal" fill="#111" >8</text>
<text transform="translate(365,370.4)" font-size="12.5" text-anchor="middle" font-weight="normal" font-style="normal" fill="#111" >5</text>
<text transform="translate(392,339.1) scale(0.93,1)" font-size="12.75" fill="#111" text-anchor="end"><tspan font-style="italic">P</tspan>&lt;.01</text>
<line x1="315.5" y1="558.6" x2="392" y2="558.6" stroke="#6e6e6e" stroke-width="1.4" />
<text transform="translate(305.2,563.1)" font-size="12.5" text-anchor="end" font-weight="normal" font-style="normal" fill="#111" >0</text>
<line x1="315.5" y1="537.16" x2="392" y2="537.16" stroke="#6e6e6e" stroke-width="1.4" />
<text transform="translate(305.2,541.66)" font-size="12.5" text-anchor="end" font-weight="normal" font-style="normal" fill="#111" >100</text>
<line x1="315.5" y1="515.72" x2="392" y2="515.72" stroke="#6e6e6e" stroke-width="1.4" />
<text transform="translate(305.2,520.22)" font-size="12.5" text-anchor="end" font-weight="normal" font-style="normal" fill="#111" >200</text>
<line x1="315.5" y1="494.28" x2="392" y2="494.28" stroke="#6e6e6e" stroke-width="1.4" />
<text transform="translate(305.2,498.78)" font-size="12.5" text-anchor="end" font-weight="normal" font-style="normal" fill="#111" >300</text>
<line x1="315.5" y1="472.84" x2="392" y2="472.84" stroke="#6e6e6e" stroke-width="1.4" />
<text transform="translate(305.2,477.34)" font-size="12.5" text-anchor="end" font-weight="normal" font-style="normal" fill="#111" >400</text>
<line x1="315.5" y1="451.4" x2="392" y2="451.4" stroke="#6e6e6e" stroke-width="1.4" />
<text transform="translate(305.2,455.9)" font-size="12.5" text-anchor="end" font-weight="normal" font-style="normal" fill="#111" >500</text>
<line x1="315.5" y1="451.4" x2="315.5" y2="558.6" stroke="#6e6e6e" stroke-width="1.4" />
<rect x="332" y="472.84" width="21.7" height="85.76" fill="#000" />
<rect x="354.6" y="494.709" width="21.9" height="63.891" fill="#b2b2b2" />
<line x1="343" y1="472.84" x2="343" y2="457.832" stroke="#000" stroke-width="1.6" />
<line x1="339.6" y1="457.832" x2="346.6" y2="457.832" stroke="#000" stroke-width="1.8" />
<line x1="365.5" y1="494.709" x2="365.5" y2="486.776" stroke="#000" stroke-width="1.6" />
<line x1="362" y1="486.776" x2="369" y2="486.776" stroke="#000" stroke-width="1.8" />
<text transform="translate(342.8,454.2)" font-size="12.5" text-anchor="middle" font-weight="normal" font-style="normal" fill="#111" >7</text>
<text transform="translate(365,484)" font-size="12.5" text-anchor="middle" font-weight="normal" font-style="normal" fill="#111" >7</text>
<text transform="translate(392,465.5) scale(0.93,1)" font-size="12.75" fill="#111" text-anchor="end"><tspan font-style="italic">P</tspan>&lt;.01</text>
<line x1="315.5" y1="690.3" x2="392" y2="690.3" stroke="#6e6e6e" stroke-width="1.4" />
<text transform="translate(305.2,694.8)" font-size="12.5" text-anchor="end" font-weight="normal" font-style="normal" fill="#111" >0</text>
<line x1="315.5" y1="672.433" x2="392" y2="672.433" stroke="#6e6e6e" stroke-width="1.4" />
<text transform="translate(305.2,676.933)" font-size="12.5" text-anchor="end" font-weight="normal" font-style="normal" fill="#111" >50</text>
<line x1="315.5" y1="654.567" x2="392" y2="654.567" stroke="#6e6e6e" stroke-width="1.4" />
<text transform="translate(305.2,659.067)" font-size="12.5" text-anchor="end" font-weight="normal" font-style="normal" fill="#111" >100</text>
<line x1="315.5" y1="636.7" x2="392" y2="636.7" stroke="#6e6e6e" stroke-width="1.4" />
<text transform="translate(305.2,641.2)" font-size="12.5" text-anchor="end" font-weight="normal" font-style="normal" fill="#111" >150</text>
<line x1="315.5" y1="618.833" x2="392" y2="618.833" stroke="#6e6e6e" stroke-width="1.4" />
<text transform="translate(305.2,623.333)" font-size="12.5" text-anchor="end" font-weight="normal" font-style="normal" fill="#111" >200</text>
<line x1="315.5" y1="600.967" x2="392" y2="600.967" stroke="#6e6e6e" stroke-width="1.4" />
<text transform="translate(305.2,605.467)" font-size="12.5" text-anchor="end" font-weight="normal" font-style="normal" fill="#111" >250</text>
<line x1="315.5" y1="583.1" x2="392" y2="583.1" stroke="#6e6e6e" stroke-width="1.4" />
<text transform="translate(305.2,587.6)" font-size="12.5" text-anchor="end" font-weight="normal" font-style="normal" fill="#111" >300</text>
<line x1="315.5" y1="583.1" x2="315.5" y2="690.3" stroke="#6e6e6e" stroke-width="1.4" />
<rect x="332" y="605.255" width="21.7" height="85.045" fill="#000" />
<rect x="354.6" y="634.556" width="21.9" height="55.744" fill="#b2b2b2" />
<line x1="343" y1="605.255" x2="343" y2="593.105" stroke="#000" stroke-width="1.6" />
<line x1="339.6" y1="593.105" x2="346.6" y2="593.105" stroke="#000" stroke-width="1.8" />
<line x1="365.5" y1="634.556" x2="365.5" y2="618.833" stroke="#000" stroke-width="1.6" />
<line x1="362" y1="618.833" x2="369" y2="618.833" stroke="#000" stroke-width="1.8" />
<text transform="translate(342.8,592.5)" font-size="12.5" text-anchor="middle" font-weight="normal" font-style="normal" fill="#111" >4</text>
<text transform="translate(365,616.4)" font-size="12.5" text-anchor="middle" font-weight="normal" font-style="normal" fill="#111" >4</text>
<text transform="translate(392,596.7) scale(0.93,1)" font-size="12.75" fill="#111" text-anchor="end"><tspan font-style="italic">P</tspan>&lt;.05</text>
<line x1="315.5" y1="822" x2="392" y2="822" stroke="#6e6e6e" stroke-width="1.4" />
<text transform="translate(305.2,826.5)" font-size="12.5" text-anchor="end" font-weight="normal" font-style="normal" fill="#111" >0</text>
<line x1="315.5" y1="804.133" x2="392" y2="804.133" stroke="#6e6e6e" stroke-width="1.4" />
<text transform="translate(305.2,808.633)" font-size="12.5" text-anchor="end" font-weight="normal" font-style="normal" fill="#111" >20</text>
<line x1="315.5" y1="786.267" x2="392" y2="786.267" stroke="#6e6e6e" stroke-width="1.4" />
<text transform="translate(305.2,790.767)" font-size="12.5" text-anchor="end" font-weight="normal" font-style="normal" fill="#111" >40</text>
<line x1="315.5" y1="768.4" x2="392" y2="768.4" stroke="#6e6e6e" stroke-width="1.4" />
<text transform="translate(305.2,772.9)" font-size="12.5" text-anchor="end" font-weight="normal" font-style="normal" fill="#111" >60</text>
<line x1="315.5" y1="750.533" x2="392" y2="750.533" stroke="#6e6e6e" stroke-width="1.4" />
<text transform="translate(305.2,755.033)" font-size="12.5" text-anchor="end" font-weight="normal" font-style="normal" fill="#111" >80</text>
<line x1="315.5" y1="732.667" x2="392" y2="732.667" stroke="#6e6e6e" stroke-width="1.4" />
<text transform="translate(305.2,737.167)" font-size="12.5" text-anchor="end" font-weight="normal" font-style="normal" fill="#111" >100</text>
<line x1="315.5" y1="714.8" x2="392" y2="714.8" stroke="#6e6e6e" stroke-width="1.4" />
<text transform="translate(305.2,719.3)" font-size="12.5" text-anchor="end" font-weight="normal" font-style="normal" fill="#111" >120</text>
<line x1="315.5" y1="714.8" x2="315.5" y2="822" stroke="#6e6e6e" stroke-width="1.4" />
<rect x="332" y="750.176" width="21.7" height="71.824" fill="#000" />
<rect x="354.6" y="786.535" width="21.9" height="35.465" fill="#b2b2b2" />
<line x1="343" y1="750.176" x2="343" y2="722.483" stroke="#000" stroke-width="1.6" />
<line x1="339.6" y1="722.483" x2="346.6" y2="722.483" stroke="#000" stroke-width="1.8" />
<line x1="365.5" y1="786.535" x2="365.5" y2="782.693" stroke="#000" stroke-width="1.6" />
<line x1="362" y1="782.693" x2="369" y2="782.693" stroke="#000" stroke-width="1.8" />
<text transform="translate(342.8,718.3)" font-size="12.5" text-anchor="middle" font-weight="normal" font-style="normal" fill="#111" >7</text>
<text transform="translate(365,778.9)" font-size="12.5" text-anchor="middle" font-weight="normal" font-style="normal" fill="#111" >7</text>
<text transform="translate(392,727.5) scale(0.93,1)" font-size="12.75" fill="#111" text-anchor="end"><tspan font-style="italic">P</tspan>&lt;.01</text>
<text transform="translate(275.6,113) rotate(-90) scale(0.83,1)" font-size="16" text-anchor="middle" fill="#111">SBC x 10<tspan font-size="11.2" dy="-5.2">6</tspan></text>
<text transform="translate(275.6,244.7) rotate(-90) scale(0.83,1)" font-size="16" text-anchor="middle" fill="#111">SBC x 10<tspan font-size="11.2" dy="-5.2">6</tspan></text>
<text transform="translate(275.6,376.4) rotate(-90) scale(0.83,1)" font-size="16" text-anchor="middle" fill="#111">SBC x 10<tspan font-size="11.2" dy="-5.2">6</tspan></text>
<text transform="translate(275.6,508.1) rotate(-90) scale(0.83,1)" font-size="16" text-anchor="middle" fill="#111">SBC x 10<tspan font-size="11.2" dy="-5.2">6</tspan></text>
<text transform="translate(275.6,639.8) rotate(-90) scale(0.83,1)" font-size="16" text-anchor="middle" fill="#111">SBC x 10<tspan font-size="11.2" dy="-5.2">6</tspan></text>
<text transform="translate(275.6,771.5) rotate(-90) scale(0.83,1)" font-size="16" text-anchor="middle" fill="#111">SBC x 10<tspan font-size="11.2" dy="-5.2">6</tspan></text>
<text transform="translate(472.2,44.3) rotate(-41) scale(0.75,1)" font-size="14.6" text-anchor="start" font-weight="normal" font-style="normal" fill="#111" style="stroke-width:0.4px">Veh</text>
<text transform="translate(499,44.3) rotate(-41) scale(0.75,1)" font-size="14.6" text-anchor="start" font-weight="normal" font-style="normal" fill="#111" style="stroke-width:0.4px">Rux</text>
<svg x="462.4" y="56.5" width="52.6" height="35.5" viewBox="462.4 56.5 52.6 35.5" overflow="hidden">
<rect x="462.4" y="56.5" width="52.6" height="35.5" fill="#c0c0c0" />
<rect x="462" y="56" width="27" height="8" rx="0" fill="#b0b0b0" opacity="1" filter="url(#b20)"/>
<rect x="462" y="80" width="26" height="13" rx="0" fill="#acacac" opacity="1" filter="url(#b20)"/>
<rect x="487.5" y="56" width="3" height="37" rx="0" fill="#d2d2d2" opacity="1" filter="url(#b10)"/>
<rect x="463.4" y="69.6" width="24.8" height="11.4" rx="4" fill="#111" opacity="1" filter="url(#b15)"/>
<rect x="491.8" y="71.6" width="20.8" height="6.4" rx="3" fill="#262626" opacity="1" filter="url(#b12)"/>
</svg>
<svg x="462.4" y="94.2" width="52.6" height="34.4" viewBox="462.4 94.2 52.6 34.4" overflow="hidden">
<rect x="462.4" y="94.2" width="52.6" height="34.4" fill="#c1c1c1" />
<rect x="464" y="108.8" width="22.8" height="7.8" rx="3" fill="#1a1a1a" opacity="1" filter="url(#b12)"/>
<rect x="490.3" y="108.8" width="22.1" height="8.4" rx="3" fill="#1a1a1a" opacity="1" filter="url(#b12)"/>
</svg>
<svg x="462.4" y="131.1" width="52.6" height="33.7" viewBox="462.4 131.1 52.6 33.7" overflow="hidden">
<rect x="462.4" y="131.1" width="52.6" height="33.7" fill="#c1c1c1" />
<rect x="462" y="131" width="53" height="11" rx="0" fill="#b8b8b8" opacity="1" filter="url(#b20)"/>
<rect x="462.8" y="142.2" width="52" height="7.8" rx="3" fill="#0e0e0e" opacity="1" filter="url(#b12)"/>
<rect x="462.8" y="144" width="26.4" height="8.4" rx="4" fill="#0e0e0e" opacity="1" filter="url(#b12)"/>
<rect x="489.6" y="144" width="25.2" height="8.4" rx="4" fill="#0e0e0e" opacity="1" filter="url(#b12)"/>
</svg>
<svg x="462.4" y="187.2" width="52.6" height="35.2" viewBox="462.4 187.2 52.6 35.2" overflow="hidden">
<rect x="462.4" y="187.2" width="52.6" height="35.2" fill="#bebebe" />
<rect x="489" y="187" width="26" height="36" rx="0" fill="#c9c9c9" opacity="1" filter="url(#b10)"/>
<rect x="487.5" y="187" width="3" height="36" rx="0" fill="#d2d2d2" opacity="1" filter="url(#b10)"/>
<rect x="464.4" y="197.8" width="23.4" height="15.2" rx="5" fill="#141414" opacity="1" filter="url(#b15)"/>
<rect x="492.3" y="205" width="20.1" height="8" rx="2" fill="#b4b4b4" opacity="1" filter="url(#b20)"/>
<rect x="492.3" y="201.3" width="20.1" height="5.1" rx="2" fill="#5a5a5a" opacity="1" filter="url(#b13)"/>
</svg>
<svg x="462.4" y="224.2" width="52.6" height="35.2" viewBox="462.4 224.2 52.6 35.2" overflow="hidden">
<rect x="462.4" y="224.2" width="52.6" height="35.2" fill="#c0c0c0" />
<rect x="464.4" y="235" width="23.6" height="16.2" rx="5" fill="#0a0a0a" opacity="1" filter="url(#b13)"/>
<rect x="490.6" y="235" width="24.2" height="16.2" rx="5" fill="#0a0a0a" opacity="1" filter="url(#b13)"/>
<rect x="495.5" y="248" width="4" height="7" rx="2" fill="#222" opacity="1" filter="url(#b12)"/>
</svg>
<svg x="462.4" y="262.6" width="52.6" height="33" viewBox="462.4 262.6 52.6 33" overflow="hidden">
<rect x="462.4" y="262.6" width="52.6" height="33" fill="#c2c2c2" />
<rect x="465" y="288" width="22" height="4" rx="0" fill="#b0b0b0" opacity="1" filter="url(#b15)"/>
<rect x="492" y="288" width="21" height="4" rx="0" fill="#b0b0b0" opacity="1" filter="url(#b15)"/>
<rect x="462.6" y="271" width="52.2" height="10" rx="3" fill="#0c0c0c" opacity="1" filter="url(#b13)"/>
<rect x="462.6" y="273" width="26.6" height="11.6" rx="5" fill="#0c0c0c" opacity="1" filter="url(#b13)"/>
<rect x="489.8" y="273" width="25" height="12.8" rx="5" fill="#0c0c0c" opacity="1" filter="url(#b13)"/>
</svg>
<svg x="462.4" y="319.4" width="52.6" height="34.6" viewBox="462.4 319.4 52.6 34.6" overflow="hidden">
<rect x="462.4" y="319.4" width="52.6" height="34.6" fill="#bebebe" />
<rect x="462" y="319" width="27" height="35" rx="0" fill="#b4b4b4" opacity="1" filter="url(#b15)"/>
<rect x="487.5" y="319" width="3.5" height="35" rx="0" fill="#d0d0d0" opacity="1" filter="url(#b10)"/>
<rect x="465" y="344" width="22" height="8" rx="2" fill="#9a9a9a" opacity="1" filter="url(#b20)"/>
<rect x="465.4" y="330.2" width="21.6" height="14.4" rx="4" fill="#0c0c0c" opacity="1" filter="url(#b15)"/>
<rect x="492.8" y="333" width="19.6" height="12" rx="3" fill="#6a6a6a" opacity="1" filter="url(#b16)"/>
<rect x="492.8" y="333" width="19.6" height="4.5" rx="2" fill="#505050" opacity="1" filter="url(#b12)"/>
</svg>
<svg x="462.4" y="356.7" width="52.6" height="35.1" viewBox="462.4 356.7 52.6 35.1" overflow="hidden">
<rect x="462.4" y="356.7" width="52.6" height="35.1" fill="#c3c3c3" />
<rect x="465.4" y="371.5" width="19.4" height="12.7" rx="4" fill="#151515" opacity="1" filter="url(#b13)"/>
<rect x="490" y="370.4" width="21.5" height="14" rx="4" fill="#101010" opacity="1" filter="url(#b13)"/>
</svg>
<svg x="462.4" y="393.9" width="52.6" height="33.4" viewBox="462.4 393.9 52.6 33.4" overflow="hidden">
<rect x="462.4" y="393.9" width="52.6" height="33.4" fill="#c4c4c4" />
<rect x="463.8" y="406" width="22.6" height="9.4" rx="5" fill="#181818" opacity="1" filter="url(#b13)"/>
<rect x="490" y="406" width="22" height="10.6" rx="5" fill="#141414" opacity="1" filter="url(#b13)"/>
</svg>
<svg x="462.4" y="450.8" width="52.6" height="34.6" viewBox="462.4 450.8 52.6 34.6" overflow="hidden">
<rect x="462.4" y="450.8" width="52.6" height="34.6" fill="#b8b8b8" />
<rect x="462" y="451" width="26" height="7" rx="0" fill="#b4b4b4" opacity="1" filter="url(#b20)"/>
<rect x="487.5" y="451" width="3" height="35" rx="0" fill="#cccccc" opacity="1" filter="url(#b10)"/>
<rect x="463.5" y="458" width="23.5" height="19" rx="4" fill="#9a9a9a" opacity="1" filter="url(#b24)"/>
<rect x="491" y="464" width="21.5" height="14" rx="4" fill="#afafaf" opacity="1" filter="url(#b24)"/>
</svg>
<svg x="462.4" y="487.6" width="52.6" height="35.2" viewBox="462.4 487.6 52.6 35.2" overflow="hidden">
<rect x="462.4" y="487.6" width="52.6" height="35.2" fill="#c2c2c2" />
<rect x="465" y="506" width="15" height="14" rx="4" fill="#8a8a8a" opacity="1" filter="url(#b20)"/>
<rect x="462.8" y="494.6" width="25.6" height="18.2" rx="3" fill="#0e0e0e" opacity="1" filter="url(#b13)"/>
<rect x="490.6" y="494.6" width="24.2" height="18" rx="3" fill="#0e0e0e" opacity="1" filter="url(#b13)"/>
<rect x="488.6" y="490" width="1.6" height="30" rx="0" fill="#bbbbbb" opacity="1" filter="url(#b6)"/>
</svg>
<svg x="462.4" y="525.4" width="52.6" height="33.9" viewBox="462.4 525.4 52.6 33.9" overflow="hidden">
<rect x="462.4" y="525.4" width="52.6" height="33.9" fill="#c2c2c2" />
<rect x="462.6" y="535.6" width="52.2" height="14.2" rx="3" fill="#747474" opacity="1" filter="url(#b15)"/>
</svg>
<svg x="462.4" y="583.9" width="52.6" height="34" viewBox="462.4 583.9 52.6 34" overflow="hidden">
<rect x="462.4" y="583.9" width="52.6" height="34" fill="#bebebe" />
<rect x="487.5" y="584" width="3" height="34" rx="0" fill="#cccccc" opacity="1" filter="url(#b10)"/>
<rect x="466" y="596.2" width="19.5" height="5" rx="2" fill="#8e8e8e" opacity="1" filter="url(#b14)"/>
<rect x="465" y="600" width="22" height="10" rx="3" fill="#b0b0b0" opacity="1" filter="url(#b20)"/>
<rect x="492" y="601.8" width="21" height="6" rx="3" fill="#b0b0b0" opacity="1" filter="url(#b18)"/>
</svg>
<svg x="462.4" y="620.7" width="52.6" height="35.1" viewBox="462.4 620.7 52.6 35.1" overflow="hidden">
<rect x="462.4" y="620.7" width="52.6" height="35.1" fill="#c2c2c2" />
<rect x="462.8" y="632.6" width="25.2" height="14.4" rx="5" fill="#161616" opacity="1" filter="url(#b15)"/>
<rect x="490.8" y="632.6" width="23.8" height="12.6" rx="4" fill="#111" opacity="1" filter="url(#b14)"/>
</svg>
<svg x="462.4" y="657.9" width="52.6" height="33.4" viewBox="462.4 657.9 52.6 33.4" overflow="hidden">
<rect x="462.4" y="657.9" width="52.6" height="33.4" fill="#c2c2c2" />
<rect x="462" y="658" width="53" height="9" rx="0" fill="#b6b6b6" opacity="1" filter="url(#b18)"/>
<rect x="462.6" y="667.2" width="52.2" height="12.8" rx="3" fill="#0a0a0a" opacity="1" filter="url(#b13)"/>
<rect x="462.6" y="670" width="26.6" height="12.8" rx="5" fill="#0a0a0a" opacity="1" filter="url(#b13)"/>
<rect x="489.8" y="670" width="25" height="12.8" rx="5" fill="#0a0a0a" opacity="1" filter="url(#b13)"/>
</svg>
<svg x="462.4" y="714.8" width="52.6" height="34.4" viewBox="462.4 714.8 52.6 34.4" overflow="hidden">
<rect x="462.4" y="714.8" width="52.6" height="34.4" fill="#c0c0c0" />
<rect x="487.5" y="715" width="3" height="35" rx="0" fill="#cdcdcd" opacity="1" filter="url(#b10)"/>
<rect x="466" y="727.6" width="21" height="13.4" rx="4" fill="#aaaaaa" opacity="1" filter="url(#b22)"/>
<rect x="491" y="730" width="21.5" height="11" rx="4" fill="#b0b0b0" opacity="1" filter="url(#b22)"/>
</svg>
<svg x="462.4" y="751.6" width="52.6" height="35.1" viewBox="462.4 751.6 52.6 35.1" overflow="hidden">
<rect x="462.4" y="751.6" width="52.6" height="35.1" fill="#c2c2c2" />
<rect x="464.6" y="766" width="24.4" height="13.2" rx="5" fill="#0a0a0a" opacity="1" filter="url(#b14)"/>
<rect x="491.2" y="766.4" width="23" height="11.6" rx="5" fill="#0e0e0e" opacity="1" filter="url(#b14)"/>
</svg>
<svg x="462.4" y="789.3" width="52.6" height="34" viewBox="462.4 789.3 52.6 34" overflow="hidden">
<rect x="462.4" y="789.3" width="52.6" height="34" fill="#c2c2c2" />
<rect x="462" y="789" width="53" height="10" rx="0" fill="#b8b8b8" opacity="1" filter="url(#b18)"/>
<rect x="462.6" y="799.4" width="52.2" height="10.6" rx="3" fill="#080808" opacity="1" filter="url(#b13)"/>
<rect x="462.6" y="802" width="26.6" height="12.2" rx="6" fill="#080808" opacity="1" filter="url(#b13)"/>
<rect x="489.8" y="802" width="25" height="12.2" rx="6" fill="#080808" opacity="1" filter="url(#b13)"/>
</svg>
<text transform="translate(456.2,78.9) scale(0.765,1)" font-size="14.5" text-anchor="end" font-weight="normal" font-style="normal" fill="#111" style="stroke-width:0.38px;letter-spacing:0.8px">pSTAT5</text>
<text transform="translate(456.2,116.1) scale(0.765,1)" font-size="14.5" text-anchor="end" font-weight="normal" font-style="normal" fill="#111" style="stroke-width:0.38px;letter-spacing:0.8px">STAT5</text>
<text transform="translate(456.2,150.1) scale(0.765,1)" font-size="14.5" text-anchor="end" font-weight="normal" font-style="normal" fill="#111" style="stroke-width:0.38px;letter-spacing:0.8px">actin</text>
<text transform="translate(456.2,207.6) scale(0.765,1)" font-size="14.5" text-anchor="end" font-weight="normal" font-style="normal" fill="#111" style="stroke-width:0.38px;letter-spacing:0.8px">pSTAT5</text>
<text transform="translate(456.2,246.1) scale(0.765,1)" font-size="14.5" text-anchor="end" font-weight="normal" font-style="normal" fill="#111" style="stroke-width:0.38px;letter-spacing:0.8px">STAT5</text>
<text transform="translate(456.2,280.1) scale(0.765,1)" font-size="14.5" text-anchor="end" font-weight="normal" font-style="normal" fill="#111" style="stroke-width:0.38px;letter-spacing:0.8px">actin</text>
<text transform="translate(456.2,341.3) scale(0.765,1)" font-size="14.5" text-anchor="end" font-weight="normal" font-style="normal" fill="#111" style="stroke-width:0.38px;letter-spacing:0.8px">pSTAT5</text>
<text transform="translate(456.2,379.8) scale(0.765,1)" font-size="14.5" text-anchor="end" font-weight="normal" font-style="normal" fill="#111" style="stroke-width:0.38px;letter-spacing:0.8px">STAT5</text>
<text transform="translate(456.2,414) scale(0.765,1)" font-size="14.5" text-anchor="end" font-weight="normal" font-style="normal" fill="#111" style="stroke-width:0.38px;letter-spacing:0.8px">actin</text>
<text transform="translate(456.2,473.3) scale(0.765,1)" font-size="14.5" text-anchor="end" font-weight="normal" font-style="normal" fill="#111" style="stroke-width:0.38px;letter-spacing:0.8px">pSTAT5</text>
<text transform="translate(456.2,511.4) scale(0.765,1)" font-size="14.5" text-anchor="end" font-weight="normal" font-style="normal" fill="#111" style="stroke-width:0.38px;letter-spacing:0.8px">STAT5</text>
<text transform="translate(456.2,546) scale(0.765,1)" font-size="14.5" text-anchor="end" font-weight="normal" font-style="normal" fill="#111" style="stroke-width:0.38px;letter-spacing:0.8px">actin</text>
<text transform="translate(456.2,605.3) scale(0.765,1)" font-size="14.5" text-anchor="end" font-weight="normal" font-style="normal" fill="#111" style="stroke-width:0.38px;letter-spacing:0.8px">pSTAT5</text>
<text transform="translate(456.2,643.4) scale(0.765,1)" font-size="14.5" text-anchor="end" font-weight="normal" font-style="normal" fill="#111" style="stroke-width:0.38px;letter-spacing:0.8px">STAT5</text>
<text transform="translate(456.2,677.5) scale(0.765,1)" font-size="14.5" text-anchor="end" font-weight="normal" font-style="normal" fill="#111" style="stroke-width:0.38px;letter-spacing:0.8px">actin</text>
<text transform="translate(456.2,736.7) scale(0.765,1)" font-size="14.5" text-anchor="end" font-weight="normal" font-style="normal" fill="#111" style="stroke-width:0.38px;letter-spacing:0.8px">pSTAT5</text>
<text transform="translate(456.2,775.2) scale(0.765,1)" font-size="14.5" text-anchor="end" font-weight="normal" font-style="normal" fill="#111" style="stroke-width:0.38px;letter-spacing:0.8px">STAT5</text>
<text transform="translate(456.2,808.8) scale(0.765,1)" font-size="14.5" text-anchor="end" font-weight="normal" font-style="normal" fill="#111" style="stroke-width:0.38px;letter-spacing:0.8px">actin</text></svg></body></html>
